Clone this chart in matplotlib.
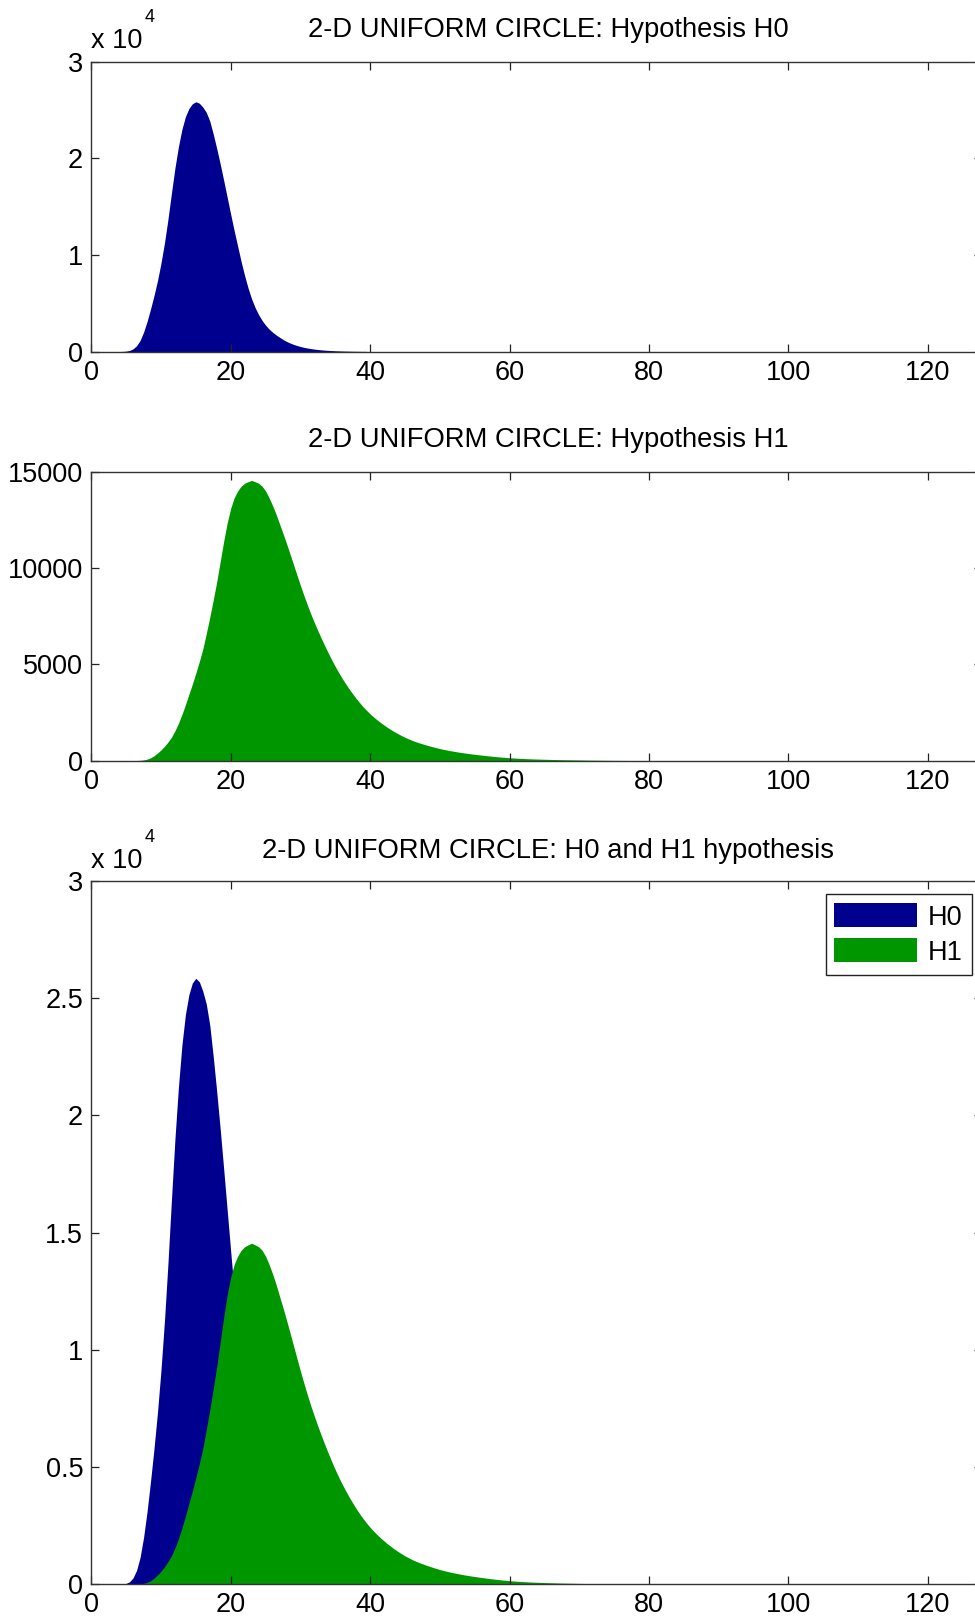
import numpy as np
import matplotlib
matplotlib.use("Agg")
import matplotlib.pyplot as plt
from matplotlib.patches import Patch

plt.rcParams['font.family'] = ['Liberation Sans', 'DejaVu Sans']

# ---------------- data ----------------
BIN_WIDTH = 0.5
H0_FIRST_CENTER = 4.0
H0_COUNTS = [
    0, 10, 40, 110, 280, 600, 1150, 2000, 3100, 4400,
    5800, 7350, 9150, 11250, 13700, 16400, 19000, 21200, 23000, 24300,
    25150, 25650, 25850, 25700, 25300, 24750, 23850, 22500, 21000, 19400,
    17700, 15950, 14200, 12500, 10900, 9300, 7850, 6550, 5450, 4550,
    3820, 3220, 2730, 2330, 2000, 1720, 1480, 1250, 1050, 880,
    740, 620, 520, 430, 360, 300, 250, 205, 170, 140,
    115, 95, 78, 63, 52, 42, 34, 27, 22, 17,
    13, 10,
]
H1_FIRST_CENTER = 6.0
H1_COUNTS = [
    5, 10, 20, 40, 80, 150, 260, 400, 560, 750,
    970, 1220, 1550, 1940, 2400, 2900, 3450, 3980, 4550, 5150,
    5800, 6600, 7450, 8350, 9300, 10350, 11400, 12350, 13100, 13650,
    14000, 14250, 14400, 14480, 14550, 14480, 14400, 14250, 14000, 13650,
    13250, 12800, 12300, 11800, 11280, 10740, 10190, 9640, 9100, 8580,
    8080, 7610, 7170, 6750, 6350, 5960, 5590, 5230, 4890, 4570,
    4270, 3990, 3720, 3470, 3230, 3010, 2800, 2610, 2430, 2270,
    2120, 1980, 1850, 1725, 1610, 1500, 1400, 1305, 1215, 1135,
    1060, 990, 930, 875, 820, 770, 720, 675, 630, 590,
    555, 520, 488, 458, 430, 403, 378, 354, 332, 310,
    290, 270, 250, 232, 215, 198, 182, 168, 155, 143,
    132, 122, 113, 105, 97, 91, 85, 80, 75, 70,
    65, 61, 57, 53, 50, 47, 44, 41, 38, 35,
    33, 30, 28, 26, 24, 22, 20, 18, 16, 15,
    14, 12, 11, 10, 9, 8, 7, 6,
]

TITLES = [
    "2-D UNIFORM CIRCLE: Hypothesis H0",
    "2-D UNIFORM CIRCLE: Hypothesis H1",
    "2-D UNIFORM CIRCLE: H0 and H1 hypothesis",
]
XTICKS = [0, 20, 40, 60, 80, 100, 120]
YTICKS_TOP = [0, 10000, 20000, 30000]
YTICKLABELS_TOP = ["0", "1", "2", "3"]
YTICKS_MID = [0, 5000, 10000, 15000]
YTICKLABELS_MID = ["0", "5000", "10000", "15000"]
YTICKS_BOT = [0, 5000, 10000, 15000, 20000, 25000, 30000]
YTICKLABELS_BOT = ["0", "0.5", "1", "1.5", "2", "2.5", "3"]
LEGEND_LABELS = ["H0", "H1"]

C_H0 = "#00008F"
C_H1 = "#009600"

# ---------------- figure ----------------
W, H = 975, 1621
DPI = 100
fig = plt.figure(figsize=(W / DPI, H / DPI), dpi=DPI)

X_LEFT = 91.3
PX_PER_UNIT = 6.97
XMAX = 127.8
ax_w = XMAX * PX_PER_UNIT / W
FS = 19.5


def centers(first_center, n):
    return first_center + BIN_WIDTH * np.arange(n)


def make_axes(top_px, bottom_px):
    return fig.add_axes([X_LEFT / W, 1 - bottom_px / H, ax_w,
                         (bottom_px - top_px) / H])


def draw_hist(ax, first_center, counts, color):
    x = centers(first_center, len(counts))
    ax.fill_between(x, 0, counts, color=color, linewidth=0)


def style(ax, yticks, ylabels, ymax, title, title_y_px):
    ax.set_xlim(0, XMAX)
    ax.set_ylim(0, ymax)
    ax.set_xticks(XTICKS)
    ax.set_xticklabels([str(t) for t in XTICKS])
    ax.set_yticks(yticks)
    ax.set_yticklabels(ylabels)
    ax.tick_params(direction="in", top=True, right=True, length=5.8,
                   width=0.9, color="#222222", labelsize=FS, pad=5.8,
                   labelcolor="black")
    for s in ax.spines.values():
        s.set_color("#333333")
        s.set_linewidth(1.0)
    ax.set_facecolor("white")
    fig.text(548 / W, 1 - title_y_px / H, title, ha="center", va="baseline",
             fontsize=19.7, color="black")


def exponent(baseline_px, sup_baseline_px):
    fig.text(91.0 / W, 1 - baseline_px / H, "x 10", ha="left", va="baseline",
             fontsize=FS, color="black")
    fig.text(145.0 / W, 1 - sup_baseline_px / H, "4", ha="left",
             va="baseline", fontsize=13, color="black")


# top panel
ax1 = make_axes(61.7, 351.5)
draw_hist(ax1, H0_FIRST_CENTER, H0_COUNTS, C_H0)
style(ax1, YTICKS_TOP, YTICKLABELS_TOP, 30000, TITLES[0], 36.7)
exponent(47.7, 21.7)

# middle panel
ax2 = make_axes(471.7, 760.7)
draw_hist(ax2, H1_FIRST_CENTER, H1_COUNTS, C_H1)
style(ax2, YTICKS_MID, YTICKLABELS_MID, 15000, TITLES[1], 446.7)

# bottom panel
ax3 = make_axes(881.0, 1584.3)
draw_hist(ax3, H0_FIRST_CENTER, H0_COUNTS, C_H0)
draw_hist(ax3, H1_FIRST_CENTER, H1_COUNTS, C_H1)
style(ax3, YTICKS_BOT, YTICKLABELS_BOT, 30000, TITLES[2], 857.7)
exponent(867.7, 841.7)

handles = [Patch(facecolor=C_H0, edgecolor="none"),
           Patch(facecolor=C_H1, edgecolor="none")]
leg = fig.legend(handles, LEGEND_LABELS, loc="upper right",
                 bbox_to_anchor=(971.7 / W, 1 - 894.3 / H),
                 bbox_transform=fig.transFigure, fontsize=FS,
                 frameon=True, fancybox=False, framealpha=1,
                 edgecolor="#222222", borderpad=0.33, handlelength=3.05,
                 handleheight=1.0, labelspacing=0.28, handletextpad=0.4,
                 borderaxespad=0)
leg.get_frame().set_linewidth(1.0)

fig.savefig("out.png", dpi=DPI, facecolor="white")
